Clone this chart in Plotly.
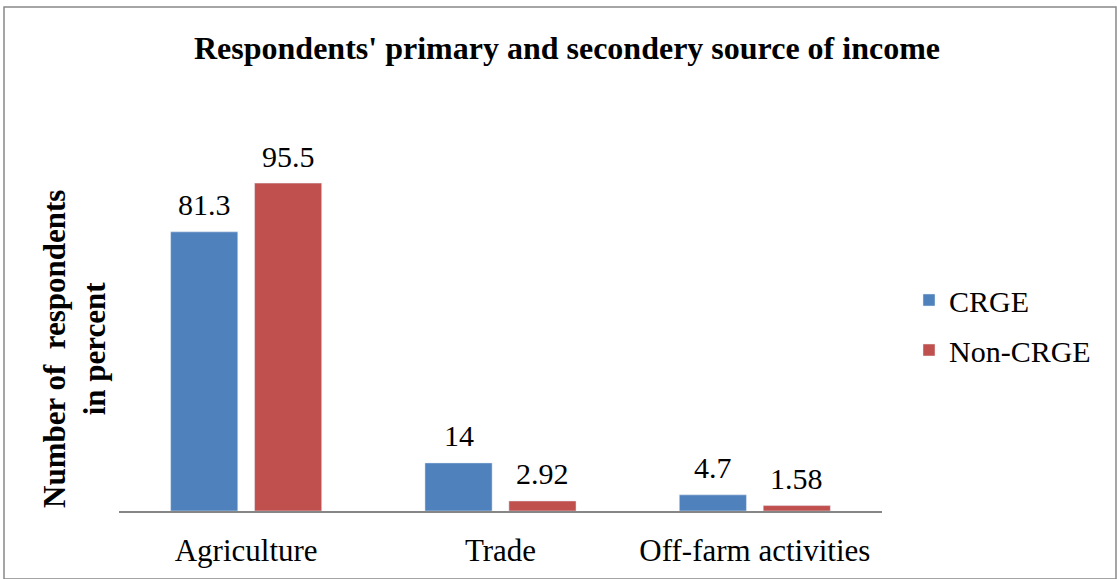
import plotly.graph_objects as go

categories = ["Agriculture", "Trade", "Off-farm activities"]
crge = [81.3, 14, 4.7]
non_crge = [95.5, 2.92, 1.58]
crge_labels = ["81.3", "14", "4.7"]
non_crge_labels = ["95.5", "2.92", "1.58"]

W, H = 1117, 579
L, R, T, B = 119, 235, 99, 68
pw, ph = W - L - R, H - T - B

def px(x):
    return (x - L) / pw

def py(y):
    return (H - B - y) / ph

font_family = "Liberation Serif, Times New Roman, serif"
FS = 30

fig = go.Figure()
fig.add_trace(go.Bar(name="CRGE", x=categories, y=crge, marker_color="#4F81BD",
                     legendgroup="a"))
fig.add_trace(go.Bar(name="Non-CRGE", x=categories, y=non_crge, marker_color="#C0504D",
                     legendgroup="b"))

annotations = []
for series, labels, shift in [(crge, crge_labels, -42), (non_crge, non_crge_labels, 42)]:
    for c, v, t in zip(categories, series, labels):
        annotations.append(dict(x=c, y=v, xref="x", yref="y", text=t, showarrow=False,
                                xshift=shift, yshift=27, xanchor="center", yanchor="middle",
                                font=dict(size=FS, family=font_family, color="black")))

annotations.append(dict(text="<b>Number of  respondents<br>in percent</b>",
                        textangle=-90, x=px(74), y=py(349), xref="paper", yref="paper",
                        xanchor="center", yanchor="middle", showarrow=False,
                        font=dict(size=31, family=font_family, color="black")))

fig.update_layout(
    width=W, height=H,
    margin=dict(l=L, r=R, t=T, b=B, autoexpand=False),
    paper_bgcolor="white", plot_bgcolor="white",
    barmode="group", bargap=0.34, bargroupgap=0.2,
    font=dict(family=font_family, size=FS, color="black"),
    title=dict(text="<b>Respondents' primary and secondery source of income</b>",
               x=px(567), xref="paper", xanchor="center",
               y=1 - 48 / H, yanchor="middle",
               font=dict(size=32, family=font_family, color="black")),
    xaxis=dict(showline=True, linecolor="#868686", linewidth=2, ticks="",
               tickfont=dict(size=31, family=font_family, color="black"),
               ticklabelstandoff=11,
               showgrid=False, zeroline=False),
    yaxis=dict(range=[0, 120], visible=False, showgrid=False, zeroline=False),
    legend=dict(x=px(909), y=py(325), xanchor="left", yanchor="middle",
                font=dict(size=FS, family=font_family, color="black"),
                itemwidth=30, traceorder="grouped", tracegroupgap=8,
                bgcolor="rgba(0,0,0,0)"),
    showlegend=True,
    annotations=annotations,
    shapes=[dict(type="rect", xref="paper", yref="paper",
                 x0=px(4), x1=px(1116), y0=py(579), y1=py(7),
                 line=dict(color="#888888", width=1.5), fillcolor="rgba(0,0,0,0)")],
)

fig.write_html("out.html", config={"displayModeBar": False},
               post_script="document.body.style.margin='0px';")
